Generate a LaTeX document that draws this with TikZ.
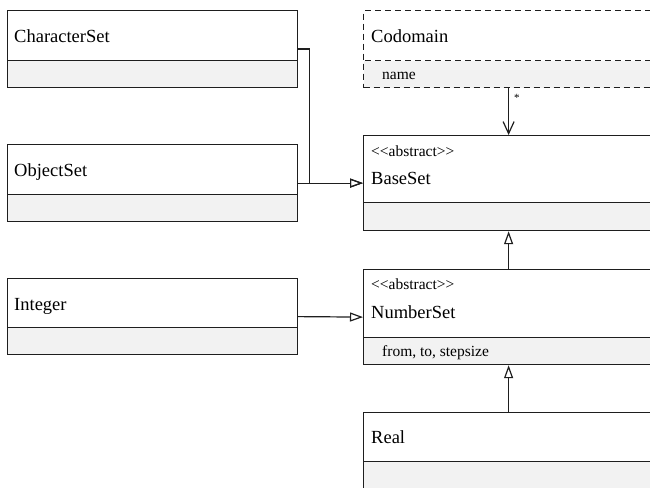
\documentclass[tikz,border=0pt]{standalone}
\usepackage{fontspec}
\setmainfont{Liberation Serif}
\usetikzlibrary{arrows.meta}
\definecolor{umlline}{HTML}{1E1E1E}
\definecolor{umlattr}{HTML}{F2F2F2}
% keep the angle brackets apart so they are not joined into guillemets
\newcommand{\umlstereo}[1]{<\kern0pt<#1>\kern0pt>}
\tikzset{
  classbox/.style={draw=umlline, line width=1.2pt, rectangle, inner sep=0pt,
    minimum width=290pt, anchor=north west},
  attrbox/.style={draw=umlline, fill=umlattr, line width=1.2pt, rectangle,
    inner sep=0pt, minimum width=290pt, minimum height=27pt, anchor=south west},
  dashedbox/.style={dash pattern=on 6pt off 4pt},
  titletext/.style={anchor=base west, inner sep=0pt,
    font=\fontsize{18.5}{22}\selectfont, text=black},
  smalltext/.style={anchor=base west, inner sep=0pt,
    font=\fontsize{15.5}{18}\selectfont, text=black},
  inherit/.style={draw=umlline, line width=1.2pt,
    -{Triangle[open, length=13pt, width=9pt]}},
  assoc/.style={draw=umlline, line width=1.2pt,
    -{Straight Barb[length=12pt, width=11pt, line width=1.2pt]}},
}
\begin{document}
\begin{tikzpicture}[x=1pt, y=-1pt]
\useasboundingbox (0,0) rectangle (650,487);
\clip (0,0) rectangle (650,487);

% left-hand classes
\node[classbox, minimum height=77pt] (charset) at (7,10) {};
\node[attrbox] (charsetattr) at (charset.south west) {};
\node[titletext] (charsetname) at (14,42) {CharacterSet};

\node[classbox, minimum height=77pt] (objset) at (7,144) {};
\node[attrbox] (objsetattr) at (objset.south west) {};
\node[titletext] (objsetname) at (14,176) {ObjectSet};

\node[classbox, minimum height=76pt] (integer) at (7,278) {};
\node[attrbox] (integerattr) at (integer.south west) {};
\node[titletext] (integername) at (14,310) {Integer};

% right-hand classes
\node[classbox, dashedbox, minimum height=77pt] (codomain) at (363,10) {};
\node[attrbox, dashedbox] (codomainattr) at (codomain.south west) {};
\node[titletext] (codomainname) at (371,42) {Codomain};
\node[smalltext] (codomainfields) at (382,79) {name};

\node[classbox, minimum height=95pt] (baseset) at (363,135) {};
\node[attrbox, minimum height=28pt] (basesetattr) at (baseset.south west) {};
\node[smalltext] (basesetstereo) at (371,156) {\umlstereo{abstract}};
\node[titletext] (basesetname) at (371,184) {BaseSet};

\node[classbox, minimum height=95pt] (numset) at (363,269) {};
\node[attrbox] (numsetattr) at (numset.south west) {};
\node[smalltext] (numsetstereo) at (371,289) {\umlstereo{abstract}};
\node[titletext] (numsetname) at (371,318) {NumberSet};
\node[smalltext] (numsetfields) at (382,356) {from, to, stepsize};

\node[classbox, minimum height=76pt] (real) at (363,412) {};
\node[attrbox] (realattr) at (real.south west) {};
\node[titletext] (realname) at (371,443) {Real};

% generalisations
\draw[inherit] (charset.east) -- ++(11,0) |- (baseset.west);
\draw[inherit] (objset.east) -- (baseset.west);
\draw[inherit] (integer.east) -- (numset.west);
\draw[inherit] (numset.north) -- (basesetattr.south);
\draw[inherit] (real.north) -- (numsetattr.south);

% association with multiplicity
\draw[assoc] (codomainattr.south) -- node[pos=0.2, right=5pt, inner sep=0pt,
  font=\fontsize{11}{12}\selectfont] (mult) {*} (baseset.north);
\end{tikzpicture}
\end{document}
